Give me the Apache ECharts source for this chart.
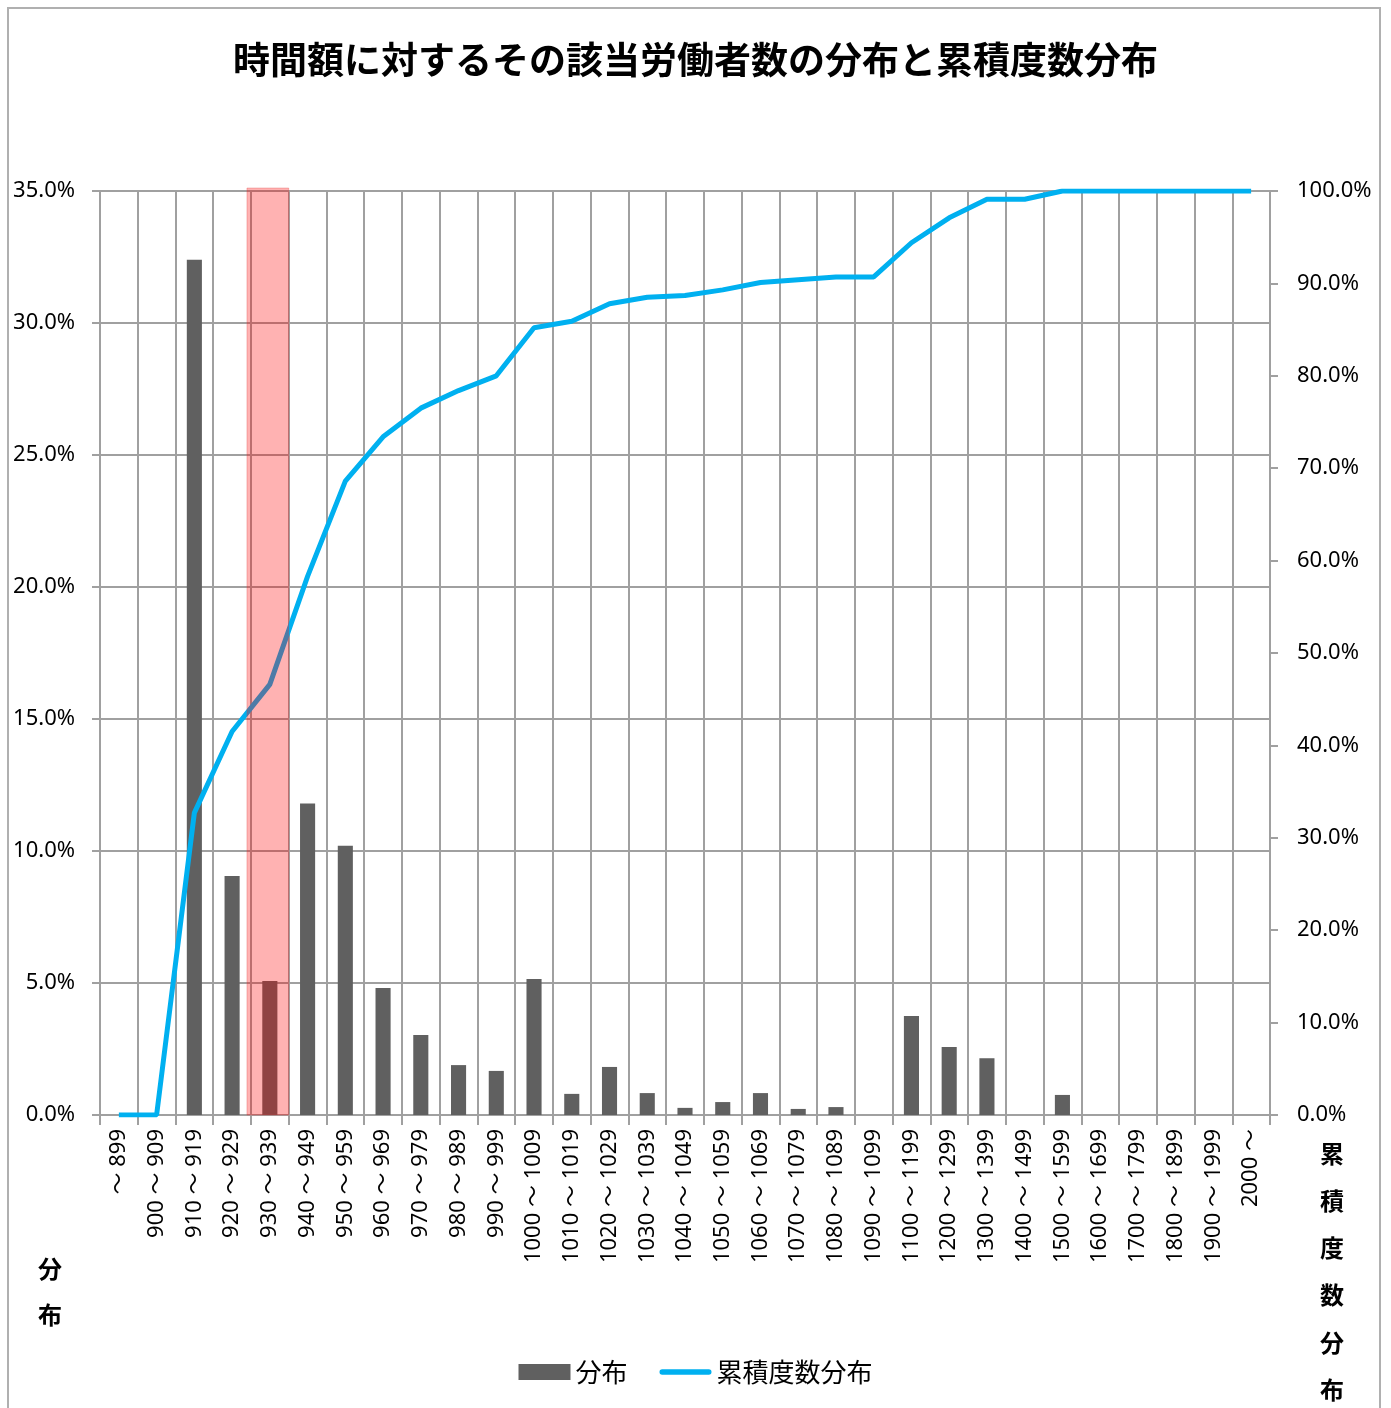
<!DOCTYPE html>
<html><head><meta charset="utf-8">
<script src="https://cdn.jsdelivr.net/npm/echarts@6/dist/echarts.min.js"></script>
<style>html,body{margin:0;padding:0;background:#fff}#c{width:1391px;height:1408px}</style>
</head><body><div id="c"></div>
<script>
const categories = ['～ 899','900 ～ 909','910 ～ 919','920 ～ 929','930 ～ 939','940 ～ 949','950 ～ 959','960 ～ 969','970 ～ 979','980 ～ 989','990 ～ 999','1000 ～ 1009','1010 ～ 1019','1020 ～ 1029','1030 ～ 1039','1040 ～ 1049','1050 ～ 1059','1060 ～ 1069','1070 ～ 1079','1080 ～ 1089','1090 ～ 1099','1100 ～ 1199','1200 ～ 1299','1300 ～ 1399','1400 ～ 1499','1500 ～ 1599','1600 ～ 1699','1700 ～ 1799','1800 ～ 1899','1900 ～ 1999','2000 ～'];
const distribution = [0,0,32.4,9.05,5.08,11.8,10.2,4.81,3.03,1.89,1.67,5.15,0.8,1.82,0.83,0.27,0.49,0.83,0.23,0.3,0,3.75,2.58,2.15,0,0.76,0,0,0,0,0];
const cumulative = [0,0,32.7,41.5,46.6,58.3,68.6,73.4,76.5,78.4,80.0,85.2,85.9,87.8,88.5,88.7,89.3,90.1,90.4,90.7,90.7,94.4,97.1,99.1,99.1,100,100,100,100,100,100];
const highlightCategory = '930 ～ 939';
const leftTicks = {min:0, max:35, interval:5};
const rightTicks = {min:0, max:100, interval:10};

const FONT = '"Noto Sans CJK JP", "Noto Sans", sans-serif';
const LFONT = '"Noto Sans", "Noto Sans CJK JP", sans-serif';
const gridColor = '#a0a0a0';
const chart = echarts.init(document.getElementById('c'));
const pct = v => v.toFixed(1) + '%';
chart.setOption({
  backgroundColor:'#fff',
  animation:false,
  textStyle:{fontFamily:FONT},
  title:{text:'時間額に対するその該当労働者数の分布と累積度数分布', left:'center', top:36,
    textStyle:{fontSize:37, fontWeight:'bold', color:'#000', fontFamily:FONT}},
  graphic:[
    {type:'rect', shape:{x:8,y:8,width:1372,height:1420}, style:{fill:null, stroke:'#b0b0b0', lineWidth:2}, silent:true},
    {type:'text', left:38, top:1246, style:{text:'分\n布', lineHeight:46, fill:'#000', font:'bold 24px '+FONT}},
    {type:'text', left:1320, top:1130, style:{text:'累\n積\n度\n数\n分\n布', lineHeight:47.2, fill:'#000', font:'bold 24px '+FONT}}
  ],
  legend:{top:1354, left:'center', itemWidth:52, itemHeight:16, itemGap:32,
    textStyle:{fontSize:26, color:'#000', fontFamily:FONT},
    data:[{name:'分布', icon:'rect'}, {name:'累積度数分布', icon:'path://M3,0 h52 a3,3 0 0 1 0,6 h-52 a3,3 0 0 1 0,-6 z'}]},
  grid:{left:100, right:121, top:191, bottom:293},
  xAxis:{type:'category', data:categories, boundaryGap:true,
    axisLine:{lineStyle:{color:gridColor, width:2}},
    axisTick:{show:true, length:10, interval:0, lineStyle:{color:gridColor, width:2}},
    splitLine:{show:true, interval:0, lineStyle:{color:gridColor, width:2}},
    axisLabel:{rotate:90, interval:0, fontSize:22, color:'#000', margin:14, fontFamily:LFONT}},
  yAxis:[
    {type:'value', min:leftTicks.min, max:leftTicks.max, interval:leftTicks.interval, position:'left',
      axisLine:{show:true, lineStyle:{color:gridColor, width:2}},
      axisTick:{show:true, length:8, lineStyle:{color:gridColor, width:2}},
      splitLine:{show:true, lineStyle:{color:gridColor, width:2}},
      axisLabel:{formatter:pct, fontSize:22, color:'#000', margin:25, fontFamily:LFONT}},
    {type:'value', min:rightTicks.min, max:rightTicks.max, interval:rightTicks.interval, position:'right',
      axisLine:{show:true, lineStyle:{color:gridColor, width:2}},
      axisTick:{show:true, length:8, lineStyle:{color:gridColor, width:2}},
      splitLine:{show:false},
      axisLabel:{formatter:pct, fontSize:22, color:'#000', margin:27, fontFamily:LFONT}}
  ],
  series:[
    {name:'分布', type:'bar', data:distribution, yAxisIndex:0, barWidth:'40%',
      itemStyle:{color:'#606060'}},
    {name:'累積度数分布', type:'line', data:cumulative, yAxisIndex:1, symbol:'none',
      lineStyle:{color:'#00b0f0', width:5}, itemStyle:{color:'#00b0f0'}},
    {name:'highlight', type:'custom', z:10, silent:true, yAxisIndex:0,
      data:[[highlightCategory, leftTicks.max]],
      renderItem:function(params, api){
        const top = api.coord([api.value(0), api.value(1)]);
        const bottom = api.coord([api.value(0), 0]);
        const w = api.size([1, 0])[0];
        return {type:'rect',
          shape:{x:top[0]-w/2-4, y:top[1]-3, width:w+4, height:bottom[1]-top[1]+3},
          style:{fill:'rgba(255,0,0,0.3)', stroke:'rgba(220,60,60,0.3)', lineWidth:1}};
      }}
  ]
});
</script></body></html>
